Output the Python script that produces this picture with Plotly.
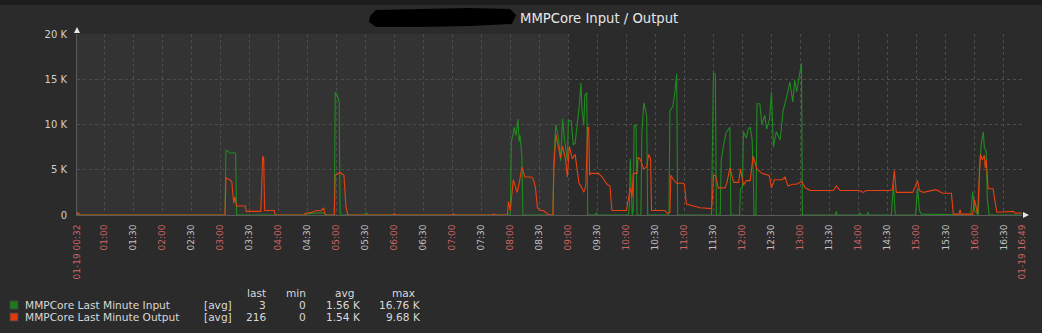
import plotly.graph_objects as go

DAY = "2015-01-19 "

# ---- data (values in thousands) ----
input_times = [
    "00:32", "03:05", "03:06", "03:08", "03:11", "03:14", "03:16", "03:17",
    "04:27", "04:30", "04:40", "04:47", "04:49", "04:58", "04:59", "05:01", "05:03", "05:04", "05:05",
    "05:29", "05:31", "05:33",
    "08:00", "08:01", "08:03", "08:04", "08:06", "08:08", "08:09", "08:10", "08:12", "08:13",
    "08:44", "08:45", "08:47", "08:50", "08:52", "08:54", "08:56", "08:59", "09:00", "09:03",
    "09:05", "09:07", "09:09", "09:11", "09:13", "09:14", "09:16", "09:17", "09:19", "09:20",
    "09:28", "09:29", "09:30",
    "10:02", "10:03", "10:04", "10:05", "10:06", "10:07", "10:08", "10:10", "10:11",
    "10:15", "10:16", "10:18", "10:20", "10:21", "10:22",
    "10:44", "10:45", "10:48", "10:50", "10:52", "10:53",
    "11:28", "11:29", "11:30", "11:32", "11:33",
    "11:37", "11:38", "11:40", "11:43", "11:47", "11:48",
    "11:57", "11:58", "12:00", "12:01", "12:04", "12:06", "12:08", "12:10", "12:11", "12:12",
    "12:14", "12:15", "12:18", "12:20", "12:23", "12:25", "12:28", "12:30", "12:32", "12:35",
    "12:39", "12:42", "12:46", "12:49", "12:52", "12:54", "12:56", "12:58", "13:01", "13:02",
    "13:36", "13:37", "13:38", "14:00", "14:01", "14:03", "14:09", "14:10", "14:11",
    "14:34", "14:36", "14:38", "14:59", "15:01", "15:03", "15:05",
    "15:56", "15:58", "16:00", "16:04", "16:05", "16:07", "16:09", "16:10", "16:12", "16:13", "16:15",
    "16:49",
]
input_values = [
    0, 0, 7.2, 7.0, 6.8, 6.9, 6.8, 0,
    0, 0.15, 0.2, 0.25, 0, 0, 13.6, 13.2, 12.5, 0.3, 0,
    0, 0.25, 0,
    0, 8.1, 9.0, 9.7, 8.8, 10.6, 8.1, 8.8, 6.4, 0,
    0, 6.0, 10.0, 8.3, 6.0, 10.6, 8.3, 6.0, 10.4, 10.4,
    7.8, 7.9, 9.9, 11.8, 14.6, 11.8, 9.9, 13.2, 13.5, 0,
    0, 0.25, 0,
    0, 1.0, 6.2, 3.0, 0, 0.5, 9.9, 9.9, 0,
    0, 9.0, 12.4, 11.5, 11.0, 0,
    0, 11.5, 12.0, 13.4, 15.6, 0,
    0, 8.0, 15.7, 15.5, 0,
    0, 6.0, 7.4, 9.1, 9.7, 0,
    0, 2.9, 3.0, 9.2, 8.5, 9.5, 9.7, 8.3, 5.0, 0,
    0, 12.3, 12.3, 10.0, 11.0, 9.5, 10.6, 13.6, 7.5, 9.2,
    8.3, 11.5, 13.2, 14.7, 12.5, 14.9, 13.6, 14.9, 16.76, 0,
    0, 0.4, 0, 0, 0.2, 0, 0, 0.3, 0,
    0, 3.5, 0, 0, 3.0, 0.5, 0.1,
    0, 2.6, 0.5, 0, 5.0, 8.0, 9.2, 7.5, 7.0, 2.0, 0,
    0.003,
]

output_times = [
    "00:32", "00:33", "00:35", "03:05", "03:06", "03:10", "03:12", "03:13", "03:14", "03:15",
    "03:17", "03:26", "03:27", "03:42", "03:43", "03:44", "03:45", "03:46", "03:56", "03:57",
    "04:27", "04:28", "04:35", "04:40", "04:44", "04:47", "04:48", "04:49",
    "04:58", "04:59", "05:01", "05:04", "05:08", "05:10", "05:12",
    "05:59", "06:00", "06:01", "07:00", "07:01", "07:02", "07:42", "07:43", "07:44",
    "07:57", "07:58", "08:00", "08:01", "08:03", "08:05", "08:07", "08:09", "08:12", "08:15",
    "08:22", "08:24", "08:26", "08:28", "08:31", "08:34", "08:38", "08:40",
    "08:44", "08:45", "08:47", "08:50", "08:52", "08:54", "08:57", "08:59", "09:01", "09:04",
    "09:07", "09:09", "09:11", "09:14", "09:16", "09:18", "09:20", "09:21", "09:22", "09:23",
    "09:31", "09:35", "09:40", "09:43", "09:45", "10:00", "10:04", "10:06", "10:07", "10:11",
    "10:12", "10:14", "10:18", "10:21", "10:23", "10:25", "10:26", "10:40", "10:42", "10:45",
    "10:46", "10:48", "10:52", "10:59", "11:00", "11:02", "11:09", "11:16", "11:28", "11:29",
    "11:30", "11:32", "11:35", "11:42", "11:44", "11:47", "11:51", "11:56", "11:58", "12:01",
    "12:04", "12:08", "12:11", "12:15", "12:20", "12:27", "12:28", "12:30", "12:33", "12:41",
    "12:44", "12:47", "12:52", "12:56", "13:01", "13:05", "13:10", "13:34", "13:37", "13:41",
    "14:01", "14:05", "14:08", "14:32", "14:35", "14:37", "14:39", "14:56", "15:01", "15:03",
    "15:07", "15:20", "15:27", "15:36", "15:38", "15:44", "15:45", "15:46", "15:58", "16:00",
    "16:03", "16:05", "16:06", "16:08", "16:10", "16:11", "16:12", "16:14", "16:19", "16:23",
    "16:40", "16:42", "16:49",
]
output_values = [
    0, 0.3, 0, 0, 4.1, 3.9, 3.7, 2.7, 1.3, 2.0,
    1.0, 1.0, 0.4, 0.4, 3.0, 6.5, 6.3, 0.5, 0.5, 0,
    0, 0.2, 0.3, 0.5, 0.45, 0.8, 0.3, 0,
    0, 4.4, 4.5, 4.7, 4.4, 1.0, 0,
    0, 0.2, 0, 0, 0.15, 0, 0, 0.1, 0,
    0, 1.5, 0.5, 1.5, 3.9, 3.2, 2.5, 3.4, 5.3, 4.2,
    4.2, 3.9, 3.0, 0.8, 0.5, 0.5, 0.2, 0,
    0, 5.0, 8.9, 7.4, 6.3, 7.6, 6.2, 4.2, 7.6, 6.2,
    6.7, 5.1, 3.5, 3.0, 2.5, 3.2, 9.7, 9.7, 4.4, 4.6,
    4.6, 4.2, 3.4, 3.2, 0.5, 0.5, 3.0, 2.0, 4.6, 4.6,
    6.4, 6.2, 5.1, 5.3, 6.7, 6.2, 0.5, 0.5, 0.2, 0.3,
    4.4, 4.0, 3.5, 3.5, 3.4, 1.2, 1.0, 0.8, 0.7, 2.0,
    4.4, 4.4, 3.0, 3.0, 3.6, 5.2, 3.6, 3.6, 5.1, 3.3,
    3.8, 3.8, 6.5, 5.1, 4.6, 4.4, 4.2, 3.0, 3.9, 3.9,
    4.2, 3.2, 3.4, 3.4, 3.7, 3.0, 2.7, 2.7, 3.2, 2.7,
    2.7, 2.5, 2.7, 2.7, 2.8, 4.9, 2.5, 2.5, 3.8, 2.7,
    2.5, 2.8, 2.4, 2.4, 0.1, 0.1, 0.6, 0.1, 0.1, 1.7,
    0.1, 4.0, 6.7, 6.1, 6.6, 5.2, 6.1, 2.9, 2.9, 0.3,
    0.4, 0.2, 0.216,
]

tick_times = [
    "00:32", "01:00", "01:30", "02:00", "02:30", "03:00", "03:30", "04:00", "04:30",
    "05:00", "05:30", "06:00", "06:30", "07:00", "07:30", "08:00", "08:30", "09:00",
    "09:30", "10:00", "10:30", "11:00", "11:30", "12:00", "12:30", "13:00", "13:30",
    "14:00", "14:30", "15:00", "15:30", "16:00", "16:30", "16:49",
]
tick_labels = ["01-19 00:32"] + tick_times[1:-1] + ["01-19 16:49"]
shade_end = "09:00"

y_tick_values = [0, 5, 10, 15, 20]
y_tick_labels = ["0", "5 K", "10 K", "15 K", "20 K"]

legend_names = ["MMPCore Last Minute Input", "MMPCore Last Minute Output"]
legend_func = ["[avg]", "[avg]"]
legend_last = ["3", "216"]
legend_min = ["0", "0"]
legend_avg = ["1.56 K", "1.54 K"]
legend_max = ["16.76 K", "9.68 K"]

title_text = "MMPCore Input / Output"

# ---- styling ----
W, H = 1042, 333
L, R, T, B = 77, 1022, 34, 215
GREEN = "#1f8c1f"
RED = "#e8400e"
RED_LBL = "#cf6464"
WHITE_LBL = "#c4c4c4"
FONT = "DejaVu Sans"


def px(x):
    return (x - L) / (R - L)


def py(y):
    return (B - y) / (B - T)


def full(t):
    return DAY + t


fig = go.Figure()
fig.add_trace(go.Scatter(x=[full(t) for t in input_times], y=input_values, mode="lines",
                         line=dict(color=GREEN, width=1.1), showlegend=False, hoverinfo="skip"))
fig.add_trace(go.Scatter(x=[full(t) for t in output_times], y=output_values, mode="lines",
                         line=dict(color=RED, width=1.1), showlegend=False, hoverinfo="skip"))

ticktext = []
for t, lab in zip(tick_times, tick_labels):
    col = RED_LBL if (t.endswith(":00") or lab.startswith("01-19")) else WHITE_LBL
    ticktext.append(f'<span style="color:{col}">{lab}</span>')

fig.update_xaxes(
    type="date", range=[full(tick_times[0]), full(tick_times[-1])],
    tickmode="array", tickvals=[full(t) for t in tick_times], ticktext=ticktext,
    tickangle=-90, tickfont=dict(family=FONT, size=9, color=WHITE_LBL),
    showgrid=True, gridcolor="#4d4d4d", griddash="dot", gridwidth=1,
    showline=True, linecolor="#5a5a5a", linewidth=1, ticks="", ticklabelstandoff=5,
    zeroline=False, fixedrange=True,
)
fig.update_yaxes(
    range=[0, 20], tickmode="array", tickvals=y_tick_values, ticktext=y_tick_labels,
    tickfont=dict(family=FONT, size=10, color="#cfcfcf"),
    showgrid=True, gridcolor="#4d4d4d", griddash="dot", gridwidth=1,
    showline=True, linecolor="#5a5a5a", linewidth=1, ticks="", ticklabelstandoff=7,
    zeroline=False, fixedrange=True,
)

shapes = [
    # lighter background before 09:00
    dict(type="rect", xref="x", yref="paper", x0=full(tick_times[0]), x1=full(shade_end),
         y0=0, y1=1, fillcolor="#333333", line=dict(width=0), layer="below"),
    # dark strip at very top
    dict(type="rect", xref="paper", yref="paper", x0=px(0), x1=px(W), y0=py(0), y1=py(5),
         fillcolor="#1d1d1d", line=dict(width=0), layer="below"),
    # axis arrows
    dict(type="path", xref="paper", yref="paper",
         path=f"M {px(74)} {py(33)} L {px(80)} {py(33)} L {px(77)} {py(27)} Z",
         fillcolor="#e8e8e8", line=dict(width=0)),
    dict(type="path", xref="paper", yref="paper",
         path=f"M {px(1023)} {py(212)} L {px(1023)} {py(218)} L {px(1029)} {py(215)} Z",
         fillcolor="#e8e8e8", line=dict(width=0)),
    # redaction blob
    dict(type="path", xref="paper", yref="paper",
         path=(f"M {px(370)} {py(16)} L {px(376)} {py(10)} L {px(420)} {py(9)} L {px(470)} {py(8)} "
               f"L {px(510)} {py(9)} L {px(516)} {py(15)} L {px(512)} {py(24)} L {px(470)} {py(26)} "
               f"L {px(420)} {py(27)} L {px(376)} {py(27)} L {px(369)} {py(22)} Z"),
         fillcolor="#000000", line=dict(width=0)),
]

# legend swatches
sw_colors = ["#1a7d1a", "#e23a0c"]
row_y = [305, 317]
for c, yy in zip(sw_colors, row_y):
    shapes.append(dict(type="rect", xref="paper", yref="paper",
                       x0=px(10), x1=px(18), y0=py(yy - 4), y1=py(yy + 4),
                       fillcolor=c, line=dict(color="#444444", width=1)))

annotations = [
    dict(text=title_text, xref="paper", yref="paper", x=px(518), y=py(18),
         xanchor="left", yanchor="middle", showarrow=False,
         font=dict(family=FONT, size=13.2, color="#e6e6e6")),
]

LEG_FONT = dict(family=FONT, size=10.6, color="#d8d8d8")


def ann(text, x, y, anchor):
    annotations.append(dict(text=text, xref="paper", yref="paper", x=px(x), y=py(y),
                            xanchor=anchor, yanchor="middle", showarrow=False, font=LEG_FONT))


header_y = 292.5
ann("last", 268, header_y, "right")
ann("min", 308, header_y, "right")
ann("avg", 345, header_y, "center")
ann("max", 403, header_y, "center")
for i, yy in enumerate(row_y):
    ann(legend_names[i], 23, yy, "left")
    ann(legend_func[i], 202, yy, "left")
    ann(legend_last[i], 268, yy, "right")
    ann(legend_min[i], 308, yy, "right")
    ann(legend_avg[i], 363, yy, "right")
    ann(legend_max[i], 423, yy, "right")

fig.update_layout(
    width=W, height=H,
    margin=dict(l=L, r=W - R, t=T, b=H - B, autoexpand=False),
    paper_bgcolor="#2b2b2b", plot_bgcolor="#2b2b2b",
    shapes=shapes, annotations=annotations, showlegend=False,
)

fig.write_html("out.html", config={"displayModeBar": False})
